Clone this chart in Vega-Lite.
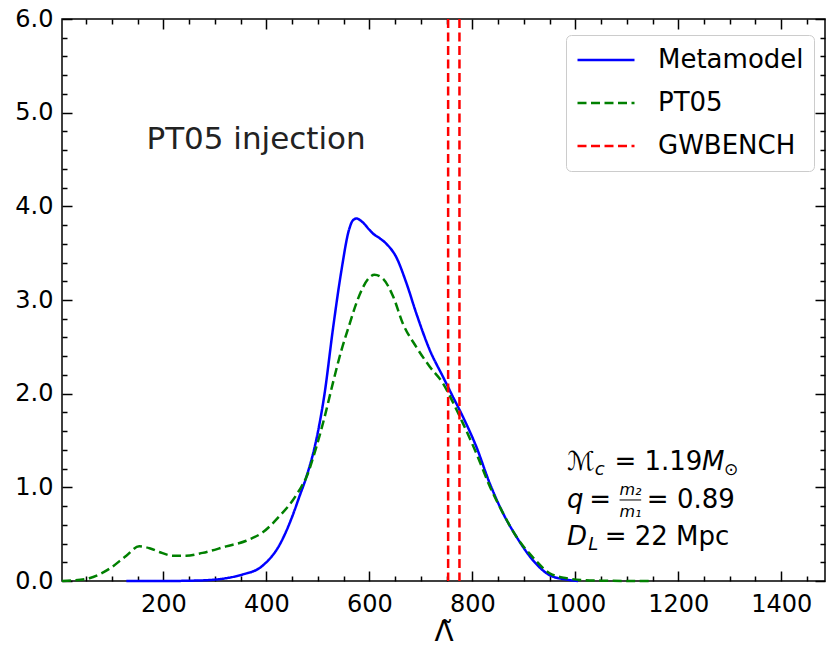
{
  "$schema": "https://vega.github.io/schema/vega-lite/v6.json",
  "width": 763,
  "height": 562,
  "autosize": {"type": "none"},
  "padding": {"left": 62, "top": 19, "right": 3, "bottom": 76},
  "background": "white",
  "config": {
    "font": "DejaVu Sans",
    "view": {"stroke": "black", "strokeWidth": 1.5},
    "axis": {
      "grid": false,
      "domain": false,
      "tickColor": "black",
      "tickWidth": 1.5,
      "labelColor": "black",
      "labelFont": "DejaVu Sans",
      "labelFontSize": 24,
      "titleColor": "black",
      "titleFont": "DejaVu Sans"
    },
    "legend": {
      "orient": "none",
      "legendX": 504,
      "legendY": 16,
      "symbolType": "stroke",
      "symbolSize": 3249,
      "symbolStrokeWidth": 2.5,
      "clipHeight": 30,
      "labelFont": "DejaVu Sans",
      "labelFontSize": 26,
      "labelColor": "black",
      "fillColor": "white",
      "strokeColor": "#cccccc",
      "cornerRadius": 5,
      "padding": 10,
      "rowPadding": 13,
      "labelOffset": 22
    }
  },
  "datasets": {
    "curves": [
      {"series": "Metamodel", "lam": 128, "d": 0},
      {"series": "Metamodel", "lam": 200, "d": 0},
      {"series": "Metamodel", "lam": 250, "d": 0.003},
      {"series": "Metamodel", "lam": 289, "d": 0.01},
      {"series": "Metamodel", "lam": 322, "d": 0.03},
      {"series": "Metamodel", "lam": 354, "d": 0.07},
      {"series": "Metamodel", "lam": 387, "d": 0.14},
      {"series": "Metamodel", "lam": 400, "d": 0.2},
      {"series": "Metamodel", "lam": 425, "d": 0.38},
      {"series": "Metamodel", "lam": 440, "d": 0.55},
      {"series": "Metamodel", "lam": 451, "d": 0.7},
      {"series": "Metamodel", "lam": 464, "d": 0.9},
      {"series": "Metamodel", "lam": 477, "d": 1.1},
      {"series": "Metamodel", "lam": 497, "d": 1.51},
      {"series": "Metamodel", "lam": 513, "d": 2.0},
      {"series": "Metamodel", "lam": 529, "d": 2.68},
      {"series": "Metamodel", "lam": 545, "d": 3.29},
      {"series": "Metamodel", "lam": 561, "d": 3.76},
      {"series": "Metamodel", "lam": 568, "d": 3.85},
      {"series": "Metamodel", "lam": 575, "d": 3.87},
      {"series": "Metamodel", "lam": 587, "d": 3.83},
      {"series": "Metamodel", "lam": 600, "d": 3.75},
      {"series": "Metamodel", "lam": 607, "d": 3.71},
      {"series": "Metamodel", "lam": 620, "d": 3.66},
      {"series": "Metamodel", "lam": 633, "d": 3.6},
      {"series": "Metamodel", "lam": 652, "d": 3.46},
      {"series": "Metamodel", "lam": 672, "d": 3.18},
      {"series": "Metamodel", "lam": 691, "d": 2.86},
      {"series": "Metamodel", "lam": 717, "d": 2.47},
      {"series": "Metamodel", "lam": 743, "d": 2.18},
      {"series": "Metamodel", "lam": 762, "d": 1.97},
      {"series": "Metamodel", "lam": 782, "d": 1.75},
      {"series": "Metamodel", "lam": 808, "d": 1.43},
      {"series": "Metamodel", "lam": 834, "d": 1.04},
      {"series": "Metamodel", "lam": 860, "d": 0.72},
      {"series": "Metamodel", "lam": 886, "d": 0.47},
      {"series": "Metamodel", "lam": 918, "d": 0.22},
      {"series": "Metamodel", "lam": 951, "d": 0.06},
      {"series": "Metamodel", "lam": 983, "d": 0.015},
      {"series": "Metamodel", "lam": 1005, "d": 0},
      {"series": "PT05", "lam": 3, "d": 0},
      {"series": "PT05", "lam": 20, "d": 0.005},
      {"series": "PT05", "lam": 56, "d": 0.03},
      {"series": "PT05", "lam": 95, "d": 0.13},
      {"series": "PT05", "lam": 128, "d": 0.27},
      {"series": "PT05", "lam": 153, "d": 0.37},
      {"series": "PT05", "lam": 173, "d": 0.35},
      {"series": "PT05", "lam": 192, "d": 0.31},
      {"series": "PT05", "lam": 218, "d": 0.27},
      {"series": "PT05", "lam": 244, "d": 0.27},
      {"series": "PT05", "lam": 276, "d": 0.3},
      {"series": "PT05", "lam": 322, "d": 0.37},
      {"series": "PT05", "lam": 361, "d": 0.43},
      {"series": "PT05", "lam": 393, "d": 0.52},
      {"series": "PT05", "lam": 425, "d": 0.69},
      {"series": "PT05", "lam": 451, "d": 0.86},
      {"series": "PT05", "lam": 464, "d": 0.97},
      {"series": "PT05", "lam": 477, "d": 1.1},
      {"series": "PT05", "lam": 497, "d": 1.43},
      {"series": "PT05", "lam": 513, "d": 1.75},
      {"series": "PT05", "lam": 529, "d": 2.11},
      {"series": "PT05", "lam": 545, "d": 2.45},
      {"series": "PT05", "lam": 562, "d": 2.75},
      {"series": "PT05", "lam": 575, "d": 2.97},
      {"series": "PT05", "lam": 588, "d": 3.14},
      {"series": "PT05", "lam": 600, "d": 3.24},
      {"series": "PT05", "lam": 610, "d": 3.27},
      {"series": "PT05", "lam": 626, "d": 3.23},
      {"series": "PT05", "lam": 646, "d": 3.04},
      {"series": "PT05", "lam": 665, "d": 2.75},
      {"series": "PT05", "lam": 691, "d": 2.5},
      {"series": "PT05", "lam": 717, "d": 2.29},
      {"series": "PT05", "lam": 743, "d": 2.11},
      {"series": "PT05", "lam": 763, "d": 1.9},
      {"series": "PT05", "lam": 782, "d": 1.68},
      {"series": "PT05", "lam": 808, "d": 1.36},
      {"series": "PT05", "lam": 834, "d": 1.01},
      {"series": "PT05", "lam": 860, "d": 0.72},
      {"series": "PT05", "lam": 886, "d": 0.47},
      {"series": "PT05", "lam": 918, "d": 0.25},
      {"series": "PT05", "lam": 951, "d": 0.08},
      {"series": "PT05", "lam": 983, "d": 0.03},
      {"series": "PT05", "lam": 1015, "d": 0.01},
      {"series": "PT05", "lam": 1060, "d": 0.003},
      {"series": "PT05", "lam": 1100, "d": 0.001},
      {"series": "PT05", "lam": 1145, "d": 0}
    ],
    "bench": [
      {"series": "GWBENCH", "lam": 753},
      {"series": "GWBENCH", "lam": 775}
    ]
  },
  "resolve": {"axis": {"x": "independent", "y": "independent"}},
  "layer": [
    {
      "data": {"name": "curves"},
      "mark": {"type": "line", "strokeWidth": 2.5, "interpolate": "monotone"},
      "encoding": {
        "x": {
          "field": "lam", "type": "quantitative",
          "scale": {"domain": [3, 1485], "nice": false, "zero": false},
          "axis": {
            "orient": "bottom",
            "values": [200, 400, 600, 800, 1000, 1200, 1400],
            "format": "d",
            "offset": -10,
            "tickSize": 10,
            "labelPadding": 11,
            "title": "Λ̃",
            "titleFontSize": 28,
            "titleFontWeight": "normal",
            "titlePadding": 2
          }
        },
        "y": {
          "field": "d", "type": "quantitative",
          "scale": {"domain": [0, 6], "nice": false, "zero": true},
          "axis": {
            "orient": "left",
            "values": [0, 1, 2, 3, 4, 5, 6],
            "format": ".1f",
            "offset": -10,
            "tickSize": 10,
            "labelPadding": 9,
            "title": null
          }
        },
        "color": {
          "field": "series", "type": "nominal", "title": null,
          "scale": {"domain": ["Metamodel", "PT05", "GWBENCH"], "range": ["#0000ff", "#008000", "#ff0000"]}
        },
        "strokeDash": {
          "field": "series", "type": "nominal", "title": null,
          "scale": {"domain": ["Metamodel", "PT05", "GWBENCH"], "range": [[1, 0], [9, 4.5], [9, 4.5]]}
        }
      }
    },
    {
      "data": {"name": "bench"},
      "mark": {"type": "rule", "strokeWidth": 2.5},
      "encoding": {
        "x": {"field": "lam", "type": "quantitative", "axis": null},
        "color": {"field": "series", "type": "nominal", "title": null},
        "strokeDash": {"field": "series", "type": "nominal", "title": null}
      }
    },
    {
      "data": {"name": "curves"},
      "mark": {"type": "line", "strokeOpacity": 0},
      "encoding": {
        "x": {"field": "lam", "type": "quantitative",
          "axis": {"orient": "top", "values": [200, 400, 600, 800, 1000, 1200, 1400], "offset": -10, "tickSize": 10, "labels": false, "title": null}},
        "y": {"field": "d", "type": "quantitative",
          "axis": {"orient": "right", "values": [0, 1, 2, 3, 4, 5, 6], "offset": -10, "tickSize": 10, "labels": false, "title": null}},
        "detail": {"field": "series"}
      }
    },
    {
      "data": {"name": "curves"},
      "mark": {"type": "line", "strokeOpacity": 0},
      "encoding": {
        "x": {"field": "lam", "type": "quantitative",
          "axis": {"orient": "bottom", "values": [50, 100, 150, 250, 300, 350, 450, 500, 550, 650, 700, 750, 850, 900, 950, 1050, 1100, 1150, 1250, 1300, 1350, 1450], "offset": -5, "tickSize": 5, "labels": false, "title": null}},
        "y": {"field": "d", "type": "quantitative",
          "axis": {"orient": "left", "values": [0.2, 0.4, 0.6, 0.8, 1.2, 1.4, 1.6, 1.8, 2.2, 2.4, 2.6, 2.8, 3.2, 3.4, 3.6, 3.8, 4.2, 4.4, 4.6, 4.8, 5.2, 5.4, 5.6, 5.8], "offset": -5, "tickSize": 5, "labels": false, "title": null}},
        "detail": {"field": "series"}
      }
    },
    {
      "data": {"name": "curves"},
      "mark": {"type": "line", "strokeOpacity": 0},
      "encoding": {
        "x": {"field": "lam", "type": "quantitative",
          "axis": {"orient": "top", "values": [50, 100, 150, 250, 300, 350, 450, 500, 550, 650, 700, 750, 850, 900, 950, 1050, 1100, 1150, 1250, 1300, 1350, 1450], "offset": -5, "tickSize": 5, "labels": false, "title": null}},
        "y": {"field": "d", "type": "quantitative",
          "axis": {"orient": "right", "values": [0.2, 0.4, 0.6, 0.8, 1.2, 1.4, 1.6, 1.8, 2.2, 2.4, 2.6, 2.8, 3.2, 3.4, 3.6, 3.8, 4.2, 4.4, 4.6, 4.8, 5.2, 5.4, 5.6, 5.8], "offset": -5, "tickSize": 5, "labels": false, "title": null}},
        "detail": {"field": "series"}
      }
    },
    {
      "data": {"values": [{}]},
      "mark": {"type": "text", "text": "PT05 injection", "align": "left", "baseline": "middle", "fontSize": 31, "color": "#222222", "font": "DejaVu Sans"},
      "encoding": {"x": {"datum": 167, "type": "quantitative", "axis": null}, "y": {"datum": 4.71, "type": "quantitative", "axis": null}}
    },
    {
      "data": {"values": [{}]},
      "mark": {"type": "text", "text": "ℳ", "align": "left", "baseline": "middle", "fontSize": 26, "fontStyle": "italic", "color": "black"},
      "encoding": {"x": {"datum": 984, "type": "quantitative", "axis": null}, "y": {"datum": 1.27, "type": "quantitative", "axis": null}}
    },
    {
      "data": {"values": [{}]},
      "mark": {"type": "text", "text": "c", "align": "left", "baseline": "middle", "fontSize": 18, "fontStyle": "italic", "color": "black"},
      "encoding": {"x": {"datum": 1038, "type": "quantitative", "axis": null}, "y": {"datum": 1.18, "type": "quantitative", "axis": null}}
    },
    {
      "data": {"values": [{}]},
      "mark": {"type": "text", "text": "= 1.19", "align": "left", "baseline": "middle", "fontSize": 26, "color": "black"},
      "encoding": {"x": {"datum": 1076, "type": "quantitative", "axis": null}, "y": {"datum": 1.27, "type": "quantitative", "axis": null}}
    },
    {
      "data": {"values": [{}]},
      "mark": {"type": "text", "text": "M", "align": "left", "baseline": "middle", "fontSize": 26, "fontStyle": "italic", "color": "black"},
      "encoding": {"x": {"datum": 1246, "type": "quantitative", "axis": null}, "y": {"datum": 1.27, "type": "quantitative", "axis": null}}
    },
    {
      "data": {"values": [{}]},
      "mark": {"type": "text", "text": "⊙", "align": "left", "baseline": "middle", "fontSize": 17, "color": "black"},
      "encoding": {"x": {"datum": 1289, "type": "quantitative", "axis": null}, "y": {"datum": 1.18, "type": "quantitative", "axis": null}}
    },
    {
      "data": {"values": [{}]},
      "mark": {"type": "text", "text": "q", "align": "left", "baseline": "middle", "fontSize": 26, "fontStyle": "italic", "color": "black"},
      "encoding": {"x": {"datum": 984, "type": "quantitative", "axis": null}, "y": {"datum": 0.865, "type": "quantitative", "axis": null}}
    },
    {
      "data": {"values": [{}]},
      "mark": {"type": "text", "text": "=", "align": "left", "baseline": "middle", "fontSize": 26, "color": "black"},
      "encoding": {"x": {"datum": 1027, "type": "quantitative", "axis": null}, "y": {"datum": 0.865, "type": "quantitative", "axis": null}}
    },
    {
      "data": {"values": [{}]},
      "mark": {"type": "text", "text": "m₂", "align": "center", "baseline": "middle", "fontSize": 16, "fontStyle": "italic", "color": "black"},
      "encoding": {"x": {"datum": 1107, "type": "quantitative", "axis": null}, "y": {"datum": 0.97, "type": "quantitative", "axis": null}}
    },
    {
      "data": {"values": [{}]},
      "mark": {"type": "text", "text": "m₁", "align": "center", "baseline": "middle", "fontSize": 16, "fontStyle": "italic", "color": "black"},
      "encoding": {"x": {"datum": 1107, "type": "quantitative", "axis": null}, "y": {"datum": 0.74, "type": "quantitative", "axis": null}}
    },
    {
      "data": {"values": [{}]},
      "mark": {"type": "rule", "color": "black", "strokeWidth": 1},
      "encoding": {"x": {"datum": 1086, "type": "quantitative", "axis": null}, "x2": {"datum": 1128}, "y": {"datum": 0.865, "type": "quantitative", "axis": null}}
    },
    {
      "data": {"values": [{}]},
      "mark": {"type": "text", "text": "= 0.89", "align": "left", "baseline": "middle", "fontSize": 26, "color": "black"},
      "encoding": {"x": {"datum": 1139, "type": "quantitative", "axis": null}, "y": {"datum": 0.865, "type": "quantitative", "axis": null}}
    },
    {
      "data": {"values": [{}]},
      "mark": {"type": "text", "text": "D", "align": "left", "baseline": "middle", "fontSize": 26, "fontStyle": "italic", "color": "black"},
      "encoding": {"x": {"datum": 984, "type": "quantitative", "axis": null}, "y": {"datum": 0.47, "type": "quantitative", "axis": null}}
    },
    {
      "data": {"values": [{}]},
      "mark": {"type": "text", "text": "L", "align": "left", "baseline": "middle", "fontSize": 18, "fontStyle": "italic", "color": "black"},
      "encoding": {"x": {"datum": 1025, "type": "quantitative", "axis": null}, "y": {"datum": 0.384, "type": "quantitative", "axis": null}}
    },
    {
      "data": {"values": [{}]},
      "mark": {"type": "text", "text": "= 22 Mpc", "align": "left", "baseline": "middle", "fontSize": 26, "color": "black"},
      "encoding": {"x": {"datum": 1057, "type": "quantitative", "axis": null}, "y": {"datum": 0.47, "type": "quantitative", "axis": null}}
    }
  ]
}
